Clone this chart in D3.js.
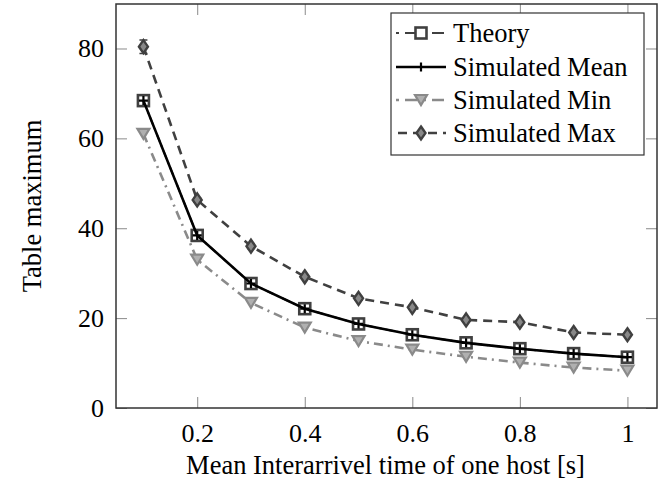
<!DOCTYPE html>
<html>
<head>
<meta charset="utf-8">
<script src="https://cdn.jsdelivr.net/npm/d3@7"></script>
<style>
  html, body { margin: 0; padding: 0; background: #fff; }
  svg text { font-family: "Liberation Serif", "Times New Roman", serif; fill: #000; }
</style>
</head>
<body>
<svg id="chart" width="672" height="485"></svg>
<script>
// ---- data ----
const xValues = [0.1, 0.2, 0.3, 0.4, 0.5, 0.6, 0.7, 0.8, 0.9, 1.0];
const theory = [68.4, 38.4, 27.7, 22.1, 18.7, 16.3, 14.5, 13.2, 12.1, 11.3];
const simMean = [68.4, 38.4, 27.7, 22.1, 18.7, 16.3, 14.5, 13.2, 12.1, 11.3];
const simMin = [61.0, 33.0, 23.4, 17.9, 14.9, 13.0, 11.4, 10.1, 9.0, 8.3];
const simMax = [80.4, 46.3, 36.0, 29.2, 24.4, 22.4, 19.6, 19.1, 16.8, 16.3];
const simMaxErr = [1.5, 0.5, 0.5, 0.4, 0.4, 0.4, 0.3, 0.3, 0.3, 0.3];
const xTicks = [0.2, 0.4, 0.6, 0.8, 1.0];
const yTicks = [0, 20, 40, 60, 80];
const seriesNames = ["Theory", "Simulated Mean", "Simulated Min", "Simulated Max"];

const svg = d3.select("#chart");
const L = 116, R = 657, T = 4, B = 408;
const x = d3.scaleLinear().domain([0.049, 1.055]).range([L, R]);
const y = d3.scaleLinear().domain([0, 89.9]).range([B, T]);
const fs = 26.5, tfs = 26;

// ticks (inward, on all sides)
const tickLen = 11, tickColor = "#8a8a8a";
const axB = svg.append("g").attr("transform", `translate(0,${B})`)
  .call(d3.axisBottom(x).tickValues(xTicks).tickSizeInner(-tickLen).tickSizeOuter(0)
    .tickPadding(16).tickFormat(d => d === 1 ? "1" : d3.format(".1f")(d)));
const axT = svg.append("g").attr("transform", `translate(0,${T})`)
  .call(d3.axisTop(x).tickValues(xTicks).tickSizeInner(-tickLen).tickSizeOuter(0).tickFormat(""));
const axL = svg.append("g").attr("transform", `translate(${L},0)`)
  .call(d3.axisLeft(y).tickValues(yTicks).tickSizeInner(-tickLen).tickSizeOuter(0).tickPadding(12));
const axR = svg.append("g").attr("transform", `translate(${R},0)`)
  .call(d3.axisRight(y).tickValues(yTicks).tickSizeInner(-tickLen).tickSizeOuter(0).tickFormat(""));
[axB, axT, axL, axR].forEach(a => {
  a.select(".domain").remove();
  a.selectAll(".tick line").attr("stroke", tickColor).attr("stroke-width", 1);
  a.selectAll(".tick text").attr("font-size", tfs).attr("fill", "#000")
    .style("font-family", '"Liberation Serif", serif');
});

// frame
svg.append("rect").attr("x", L).attr("y", T).attr("width", R - L).attr("height", B - T)
  .attr("fill", "none").attr("stroke", "#333").attr("stroke-width", 1.5);

// axis labels
svg.append("text").attr("x", (L + R) / 2 - 1).attr("y", 474).attr("text-anchor", "middle")
  .attr("font-size", fs).attr("fill", "#000").text("Mean Interarrivel time of one host [s]");
svg.append("text").attr("transform", `translate(41,${(T + B) / 2}) rotate(-90)`)
  .attr("text-anchor", "middle").attr("font-size", fs).attr("fill", "#000").text("Table maximum");

// styles
const styles = [
  { name: seriesNames[0], data: theory, color: "#404040", width: 2, dash: "8,4,2,4", marker: "square" },
  { name: seriesNames[1], data: simMean, color: "#000", width: 2.6, dash: null, marker: "plus" },
  { name: seriesNames[2], data: simMin, color: "#8a8a8a", width: 2.6, dash: "9,5,2,5", marker: "tri" },
  { name: seriesNames[3], data: simMax, color: "#404040", width: 2.6, dash: "9,6", marker: "diamond" }
];

function drawMarker(g, type, color) {
  if (type === "square") {
    g.append("rect").attr("x", -5.5).attr("y", -5.5).attr("width", 11).attr("height", 11)
      .attr("fill", "#fff").attr("stroke", color).attr("stroke-width", 2.6);
  } else if (type === "plus") {
    g.append("path").attr("d", "M-4.5,0H4.5M0,-4.5V4.5").attr("stroke", color).attr("stroke-width", 2.2);
  } else if (type === "tri") {
    g.append("path").attr("d", "M-6,-5L6,-5L0,5Z").attr("fill", "#b0b0b0")
      .attr("stroke", color).attr("stroke-width", 2.2);
  } else if (type === "diamond") {
    g.append("path").attr("d", "M0,-6.5L4.5,0L0,6.5L-4.5,0Z").attr("fill", "#888")
      .attr("stroke", color).attr("stroke-width", 2.4);
  }
}

const line = d3.line().x((d, i) => x(xValues[i])).y(d => y(d));
const plot = svg.append("g");

// draw order: min, max, theory, mean
[2, 3, 0, 1].forEach(k => {
  const s = styles[k];
  plot.append("path").datum(s.data).attr("d", line).attr("fill", "none")
    .attr("stroke", s.color).attr("stroke-width", s.width)
    .attr("stroke-dasharray", s.dash);
  if (k === 3) {
    s.data.forEach((v, i) => {
      const e = simMaxErr[i], cx = x(xValues[i]);
      plot.append("path")
        .attr("d", `M${cx},${y(v - e)}V${y(v + e)}M${cx - 4},${y(v + e)}H${cx + 4}M${cx - 4},${y(v - e)}H${cx + 4}`)
        .attr("stroke", s.color).attr("stroke-width", 1.5);
    });
  }
  s.data.forEach((v, i) => {
    const g = plot.append("g").attr("transform", `translate(${x(xValues[i])},${y(v)})`);
    drawMarker(g, s.marker, s.color);
  });
});

// legend
const lg = svg.append("g");
lg.append("rect").attr("x", 391).attr("y", 13).attr("width", 253).attr("height", 142)
  .attr("fill", "#fff").attr("stroke", "#333").attr("stroke-width", 1.2);
const rowY = [33, 67, 100, 133];
styles.forEach((s, i) => {
  const yy = rowY[i];
  lg.append("line").attr("x1", 396).attr("x2", 446).attr("y1", yy).attr("y2", yy)
    .attr("stroke", s.color).attr("stroke-width", s.width)
    .attr("stroke-dasharray", s.dash ? (i === 3 ? "9,6" : "3,6,12,6") : null)
    .attr("stroke-dashoffset", i === 3 ? -2 : 0);
  const g = lg.append("g").attr("transform", `translate(421,${yy})`);
  drawMarker(g, s.marker, s.color);
  lg.append("text").attr("x", 453).attr("y", yy + 9).attr("font-size", fs).attr("fill", "#000").text(s.name);
});
</script>
</body>
</html>
